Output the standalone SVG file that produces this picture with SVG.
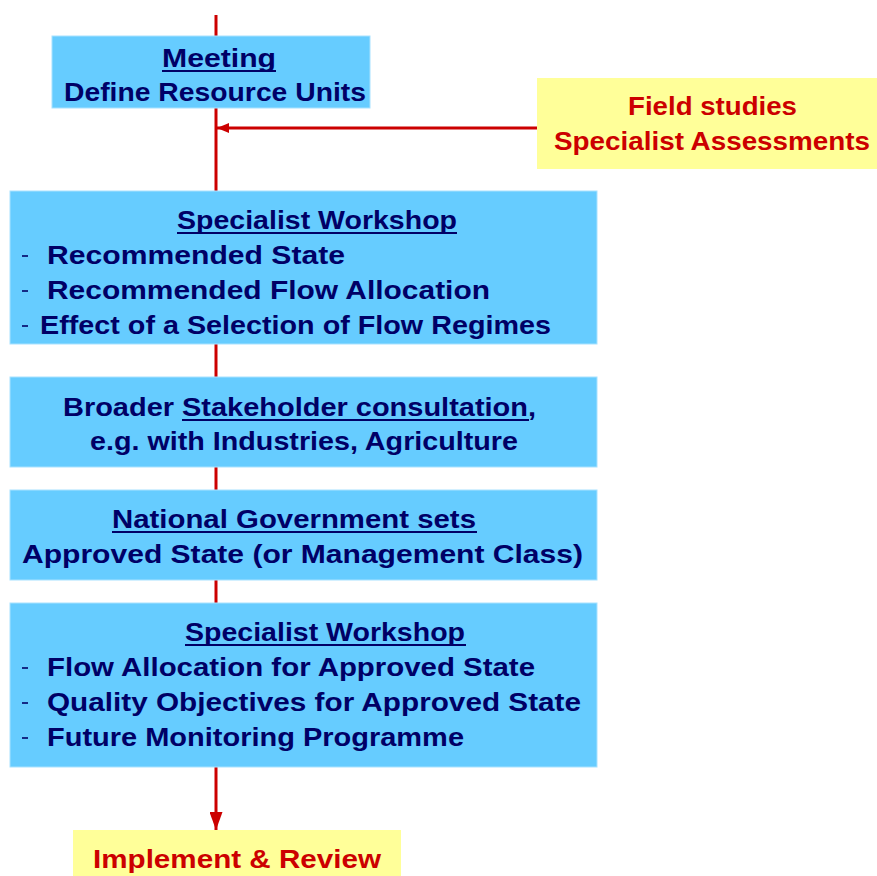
<svg xmlns="http://www.w3.org/2000/svg" width="877" height="876" viewBox="0 0 877 876">
  <defs>
    <marker id="arrow" viewBox="0 0 12 10" refX="12" refY="5" markerWidth="12" markerHeight="10" markerUnits="userSpaceOnUse" orient="auto">
      <path d="M0,0 L12,5 L0,10 z" fill="#cc0000"/>
    </marker>
    <marker id="arrow-lg" viewBox="0 0 18 13" refX="18" refY="6.5" markerWidth="18" markerHeight="13" markerUnits="userSpaceOnUse" orient="auto">
      <path d="M0,0 L18,6.5 L0,13 z" fill="#cc0000"/>
    </marker>
  </defs>
  <style>
    .step { fill: #66ccff; stroke: #a8e2ff; stroke-width: 1; }
    .note { fill: #ffff99; }
    .t { font-family: "Liberation Sans", Arial, sans-serif; font-weight: bold; font-size: 25px; fill: #000066; }
    .r { font-family: "Liberation Sans", Arial, sans-serif; font-weight: bold; font-size: 25px; fill: #cc0000; }
    .dash { stroke: #000066; stroke-width: 1.6; }
    .ul { stroke: #000066; stroke-width: 2; }
    .wire { stroke: #cc0000; stroke-width: 3; fill: none; }
  </style>

  <!-- connectors -->
  <g id="connectors">
    <line class="wire" x1="216" y1="15" x2="216" y2="191"/>
    <line class="wire" x1="537" y1="128" x2="217" y2="128" stroke-width="2.5" marker-end="url(#arrow)"/>
    <line class="wire" x1="216" y1="344" x2="216" y2="377"/>
    <line class="wire" x1="216" y1="467" x2="216" y2="490"/>
    <line class="wire" x1="216" y1="580" x2="216" y2="603"/>
    <line class="wire" x1="216" y1="767" x2="216" y2="830" marker-end="url(#arrow-lg)"/>
  </g>

  <!-- Meeting -->
  <g id="meeting">
    <rect class="step" x="52" y="36" width="318" height="72"/>
    <text class="t" x="162" y="67" textLength="114" lengthAdjust="spacingAndGlyphs">Meeting</text>
    <line class="ul" x1="162" y1="71" x2="276" y2="71"/>
    <text class="t" x="64" y="101" textLength="302" lengthAdjust="spacingAndGlyphs">Define Resource Units</text>
  </g>

  <!-- Field studies -->
  <g id="field-studies">
    <rect class="note" x="537" y="78" width="340" height="91"/>
    <text class="r" x="628" y="115" textLength="169" lengthAdjust="spacingAndGlyphs">Field studies</text>
    <text class="r" x="554" y="150" textLength="316" lengthAdjust="spacingAndGlyphs">Specialist Assessments</text>
  </g>

  <!-- Specialist Workshop 1 -->
  <g id="workshop-recommend">
    <rect class="step" x="10" y="191" width="587" height="153"/>
    <text class="t" x="177" y="229" textLength="280" lengthAdjust="spacingAndGlyphs">Specialist Workshop</text>
    <line class="ul" x1="177" y1="233" x2="457" y2="233"/>
    <line class="dash" x1="22" y1="256" x2="28" y2="256"/>
    <text class="t" x="47" y="264" textLength="298" lengthAdjust="spacingAndGlyphs">Recommended State</text>
    <line class="dash" x1="22" y1="291" x2="28" y2="291"/>
    <text class="t" x="47" y="299" textLength="443" lengthAdjust="spacingAndGlyphs">Recommended Flow Allocation</text>
    <line class="dash" x1="22" y1="326" x2="28" y2="326"/>
    <text class="t" x="40" y="334" textLength="511" lengthAdjust="spacingAndGlyphs">Effect of a Selection of Flow Regimes</text>
  </g>

  <!-- Stakeholder consultation -->
  <g id="stakeholder">
    <rect class="step" x="10" y="377" width="587" height="90"/>
    <text class="t" x="63" y="416" textLength="473" lengthAdjust="spacingAndGlyphs">Broader Stakeholder consultation,</text>
    <line class="ul" x1="182" y1="420" x2="529" y2="420"/>
    <text class="t" x="90" y="450" textLength="428" lengthAdjust="spacingAndGlyphs">e.g. with Industries, Agriculture</text>
  </g>

  <!-- National Government -->
  <g id="government">
    <rect class="step" x="10" y="490" width="587" height="90"/>
    <text class="t" x="112" y="528" textLength="364" lengthAdjust="spacingAndGlyphs">National Government sets</text>
    <line class="ul" x1="112" y1="532" x2="477" y2="532"/>
    <text class="t" x="22" y="563" textLength="561" lengthAdjust="spacingAndGlyphs">Approved State (or Management Class)</text>
  </g>

  <!-- Specialist Workshop 2 -->
  <g id="workshop-approved">
    <rect class="step" x="10" y="603" width="587" height="164"/>
    <text class="t" x="185" y="641" textLength="280" lengthAdjust="spacingAndGlyphs">Specialist Workshop</text>
    <line class="ul" x1="185" y1="645" x2="466" y2="645"/>
    <line class="dash" x1="22" y1="668" x2="28" y2="668"/>
    <text class="t" x="47" y="676" textLength="488" lengthAdjust="spacingAndGlyphs">Flow Allocation for Approved State</text>
    <line class="dash" x1="22" y1="703" x2="28" y2="703"/>
    <text class="t" x="47" y="711" textLength="534" lengthAdjust="spacingAndGlyphs">Quality Objectives for Approved State</text>
    <line class="dash" x1="22" y1="738" x2="28" y2="738"/>
    <text class="t" x="47" y="746" textLength="417" lengthAdjust="spacingAndGlyphs">Future Monitoring Programme</text>
  </g>

  <!-- Implement & Review -->
  <g id="implement">
    <rect class="note" x="73" y="830" width="328" height="46"/>
    <text class="r" x="93" y="868" textLength="288" lengthAdjust="spacingAndGlyphs">Implement &amp; Review</text>
  </g>
</svg>
